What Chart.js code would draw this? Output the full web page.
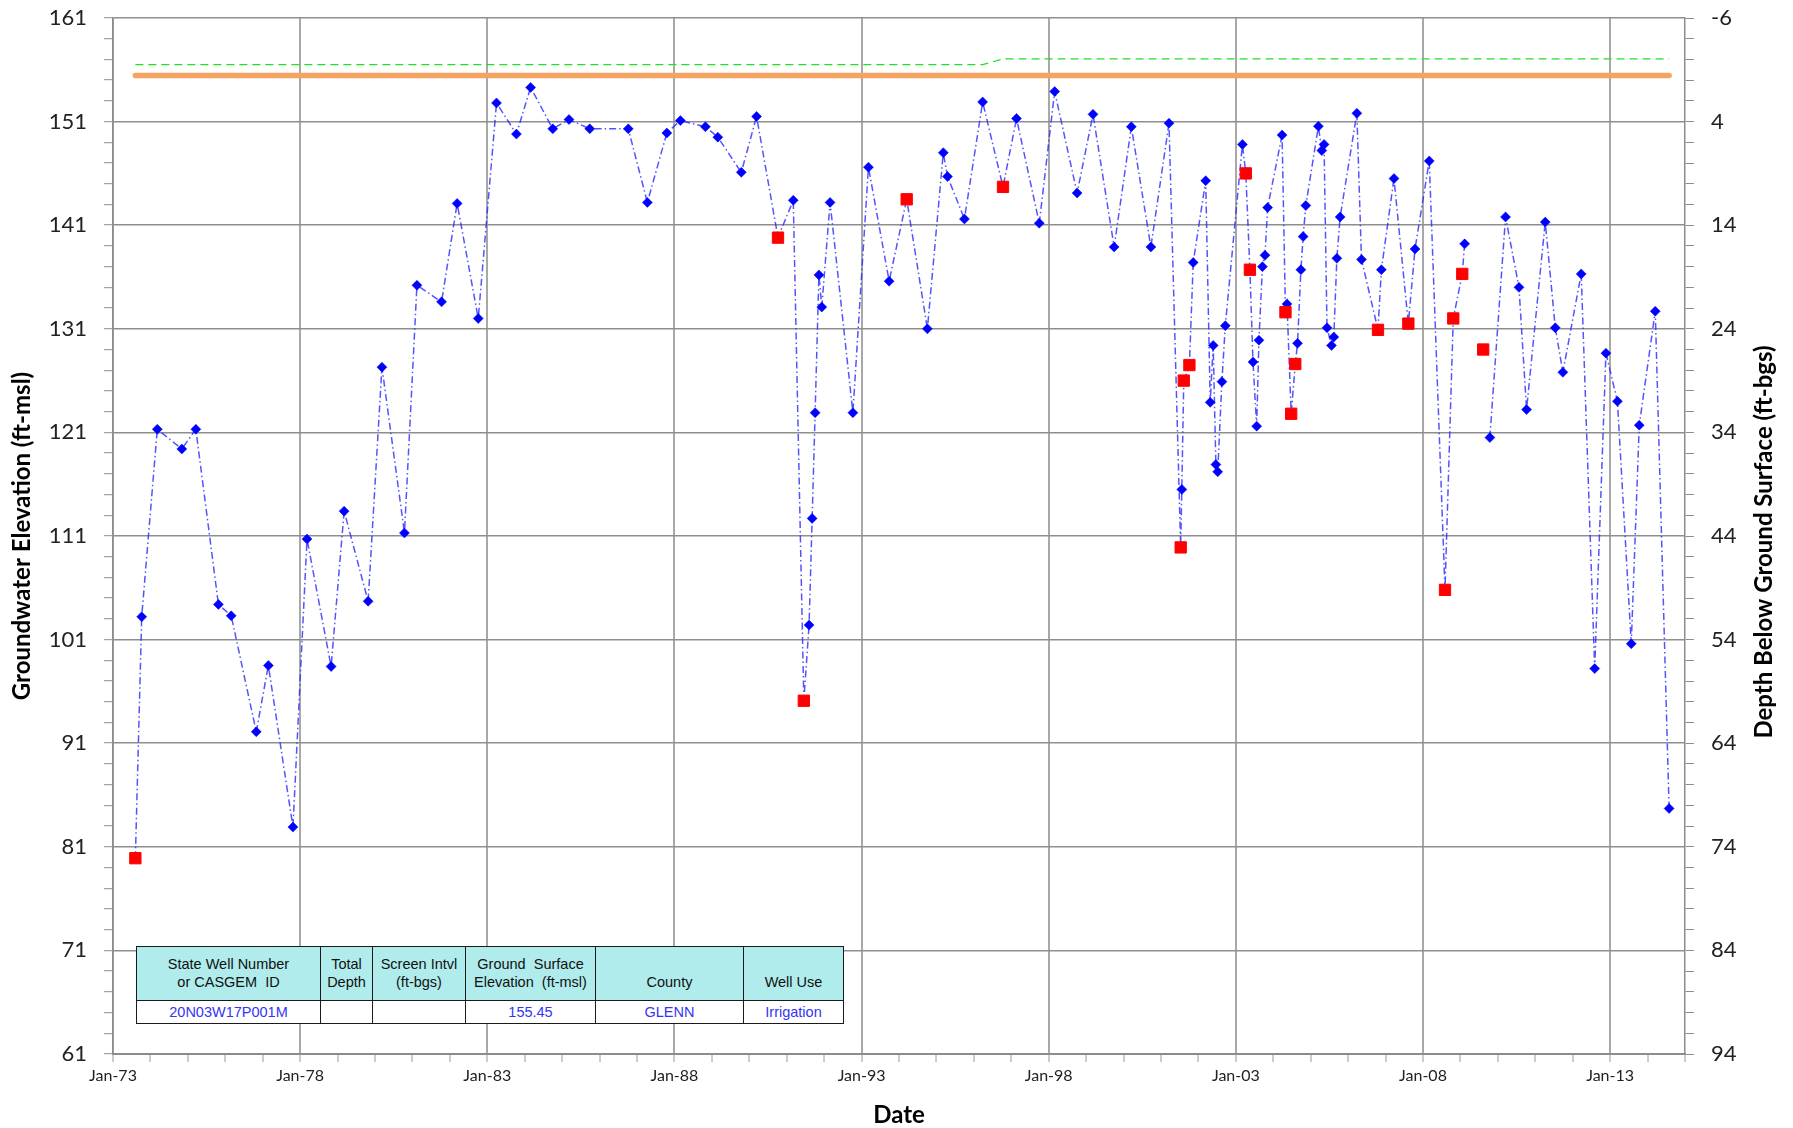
<!DOCTYPE html>
<html><head><meta charset="utf-8">
<script src="https://cdn.jsdelivr.net/npm/chart.js@4.4.1/dist/chart.umd.min.js"></script>
<style>
html,body{margin:0;padding:0;background:#fff;}
#wrap{position:relative;width:1793px;height:1128px;}
canvas{display:block;}
#info{position:absolute;left:136px;top:946px;width:708px;border-collapse:collapse;table-layout:fixed;
  font-family:"Liberation Sans",Arial,sans-serif;font-size:14.5px;background:#fff;}
#info td{border:1.5px solid #1a1a1a;text-align:center;padding:0 1px;white-space:pre;line-height:18px;overflow:hidden;}
#info tr.h td{background:#b0ecec;height:44px;vertical-align:bottom;padding-bottom:9px;color:#111;}
#info tr.d td{height:22px;color:#3434f4;padding:0;vertical-align:middle;}
</style>
</head><body>
<div id="wrap">
<canvas id="c" width="1793" height="1128"></canvas>
<table id="info">
<colgroup><col style="width:184px"><col style="width:52px"><col style="width:93px"><col style="width:130px"><col style="width:148px"><col style="width:100px"></colgroup>
<tr class="h"><td>State Well Number
or CASGEM  ID</td><td>Total
Depth</td><td>Screen Intvl
(ft-bgs)</td><td>Ground  Surface
Elevation  (ft-msl)</td><td>County</td><td>Well Use</td></tr>
<tr class="d"><td>20N03W17P001M</td><td></td><td></td><td>155.45</td><td>GLENN</td><td>Irrigation</td></tr>
</table>
</div>
<script>
// ---- data ----
const measureDates = [
 '1973-08-07','1973-10-08','1974-03-09','1974-11-03','1975-03-20','1975-10-26','1976-02-28','1976-10-30','1977-02-25','1977-10-23',
 '1978-03-09','1978-10-30','1979-03-06','1979-10-26','1980-03-09','1980-10-15','1981-02-14','1981-10-12','1982-03-13','1982-10-05',
 '1983-04-01','1983-10-12','1984-02-28','1984-10-01','1985-03-09','1985-09-27','1986-10-08','1987-04-12','1987-10-19','1988-02-28',
 '1988-10-30','1989-02-28','1989-10-15','1990-03-13','1990-10-08','1991-03-06','1991-06-17','1991-08-07','1991-09-06','1991-10-05',
 '1991-11-11','1991-12-09','1992-02-28','1992-10-08','1993-03-09','1993-09-27','1994-03-17','1994-10-05','1995-03-09','1995-04-19',
 '1995-10-01','1996-03-27','1996-10-12','1997-02-21','1997-10-01','1998-02-28','1998-10-05','1999-03-09','1999-10-01','2000-03-17',
 '2000-09-24','2001-03-20','2001-07-12','2001-07-23','2001-08-11','2001-10-05','2001-11-11','2002-03-13','2002-04-26','2002-05-25',
 '2002-06-20','2002-07-08','2002-08-18','2002-09-20','2003-03-06','2003-04-08','2003-05-18','2003-06-17','2003-07-23','2003-08-14',
 '2003-09-17','2003-10-12','2003-11-07','2004-03-27','2004-04-29','2004-05-14','2004-06-24','2004-08-03','2004-08-25','2004-09-27',
 '2004-10-19','2004-11-14','2005-03-17','2005-04-19','2005-05-11','2005-06-09','2005-07-23','2005-08-14','2005-09-13','2005-10-15',
 '2006-03-27','2006-05-11','2006-10-19','2006-11-21','2007-03-24','2007-08-11','2007-10-15','2008-03-02','2008-08-03','2008-10-23',
 '2009-01-19','2009-02-11','2009-08-11','2009-10-15','2010-03-17','2010-07-26','2010-10-08','2011-04-08','2011-07-15','2011-09-27',
 '2012-03-24','2012-08-03','2012-11-21','2013-03-13','2013-07-26','2013-10-12','2014-03-17','2014-07-30'
];
const measureElev = [
 79.9,103.2,121.3,119.4,121.3,104.4,103.3,92.1,98.5,82.9,
 110.7,98.4,113.4,104.7,127.3,111.3,135.2,133.6,143.1,132.0,
 152.8,149.8,154.3,150.3,151.2,150.3,150.3,143.2,149.9,151.1,
 150.5,149.5,146.1,151.5,139.8,143.4,95.1,102.4,112.7,122.9,
 136.2,133.1,143.2,122.9,146.6,135.6,143.5,131.0,148.0,145.7,
 141.6,152.9,144.7,151.3,141.2,153.9,144.1,151.7,138.9,150.5,
 138.9,150.85,109.9,115.5,126.0,127.5,137.4,145.3,123.9,129.4,
 117.9,117.2,125.9,131.3,148.8,146.0,136.7,127.8,121.6,129.9,
 137.0,138.1,142.7,149.7,132.6,133.4,122.8,127.6,129.6,136.7,
 139.9,142.9,150.55,148.2,148.8,131.1,129.4,130.2,137.8,141.8,
 151.8,137.7,130.9,136.7,145.5,131.5,138.7,147.2,105.8,132.0,
 136.3,139.2,129.0,120.5,141.8,135.0,123.2,141.3,131.1,126.8,
 136.3,98.2,128.65,124.0,100.6,121.7,132.7,84.7
];
// 0 = normal reading, 1 = questionable reading, 2 = questionable reading not joined by the line
const measureCode = [
 1,0,0,0,0,0,0,0,0,0,
 0,0,0,0,0,0,0,0,0,0,
 0,0,0,0,0,0,0,0,0,0,
 0,0,0,0,1,0,1,0,0,0,
 0,0,0,0,0,0,1,0,0,0,
 0,0,1,0,0,0,0,0,0,0,
 0,0,1,0,1,1,0,0,0,0,
 0,0,0,0,0,1,1,0,0,0,
 0,0,0,0,1,0,1,1,0,0,
 0,0,0,0,0,0,0,0,0,0,
 0,0,1,0,0,1,0,0,1,1,
 1,0,2,0,0,0,0,0,0,0,
 0,0,0,0,0,0,0,0
];
const groundSurfaceElev = 155.45;
const rpDates = ['1973-08-07','1996-03-27','1996-10-12','2014-07-30'];
const rpElev = [156.5,156.5,157.05,157.05];
const yearLabels = ['Jan-73','Jan-78','Jan-83','Jan-88','Jan-93','Jan-98','Jan-03','Jan-08','Jan-13'];
const elevTickLabels = [61,71,81,91,101,111,121,131,141,151,161];
const depthTickLabels = [-6,4,14,24,34,44,54,64,74,84,94];

// ---- helpers ----
function toYear(s){
  const [y,m,d] = s.split('-').map(Number);
  const t = Date.UTC(y,m-1,d), a = Date.UTC(y,0,1), b = Date.UTC(y+1,0,1);
  return y + (t-a)/(b-a);
}
const lineData = measureDates.map((d,i)=>({x:toYear(d), y: measureCode[i]===2 ? null : measureElev[i]}));
const bluePtRadius = measureCode.map(c => c===0 ? 5 : 0);
const redData = measureDates.map((d,i)=>({x:toYear(d), y:measureElev[i]})).filter((p,i)=>measureCode[i]>0);
const gsData = [{x:toYear(measureDates[0]), y:groundSurfaceElev},{x:toYear(measureDates[measureDates.length-1]), y:groundSurfaceElev}];
const rpData = rpDates.map((d,i)=>({x:toYear(d), y:rpElev[i]}));

const FONT = 'Lato';
const majorX = v => { const r = (((v-1973)%5)+5)%5; return r < 1e-6 || 5-r < 1e-6; };
const yearLabelFor = v => { const i = Math.round((v-1973)/5); return (majorX(v) && i>=0 && i<yearLabels.length) ? yearLabels[i] : ''; };
const noPad = s => { s.paddingTop = 0; s.paddingBottom = 0; };

const rightTitle = {
  id:'rightTitle',
  afterDraw(chart){
    const s = chart.scales.y2, a = chart.chartArea, ctx = chart.ctx;
    ctx.save();
    ctx.translate(s.right - 29, (a.top+a.bottom)/2 + 6);
    ctx.rotate(-Math.PI/2);
    ctx.font = 'bold 24px ' + FONT;
    ctx.fillStyle = '#000';
    ctx.textAlign = 'center';
    ctx.textBaseline = 'middle';
    ctx.fillText('Depth Below Ground Surface (ft-bgs)', 0, 0);
    ctx.restore();
  }
};

new Chart(document.getElementById('c'), {
  type:'line',
  data:{datasets:[
    {label:'Questionable', data:redData, showLine:false, pointStyle:'rect', pointRadius:8, pointHoverRadius:8,
     pointBackgroundColor:'#ff0000', pointBorderColor:'#ff0000', pointBorderWidth:1},
    {label:'GWE', data:lineData, spanGaps:false, borderColor:'rgba(40,40,255,0.8)', borderWidth:1.5, borderDash:[7,3,1.5,3],
     pointStyle:'rectRot', pointRadius:bluePtRadius, pointHoverRadius:bluePtRadius, pointBackgroundColor:'#0000ff', pointBorderColor:'#0000ff', pointBorderWidth:0.5, tension:0},
    {label:'GSE', data:gsData, borderColor:'#f4a460', borderWidth:5.5, borderCapStyle:'round', pointRadius:0, tension:0},
    {label:'RPE', data:rpData, borderColor:'#22e022', borderWidth:1.2, borderDash:[8,5], pointRadius:0, tension:0}
  ]},
  options:{
    responsive:false, animation:false, events:[],
    layout:{padding:{top:18, left:0, right:0, bottom:0}},
    plugins:{legend:{display:false}, tooltip:{enabled:false}},
    scales:{
      x:{type:'linear', min:1973, max:2015,
         ticks:{stepSize:1, autoSkip:false, maxRotation:0, minRotation:0, maxTicksLimit:200, padding:4, color:'#222',
                font:{family:FONT, size:16}, callback:v=>yearLabelFor(v)},
         grid:{color:c=> (c.tick && majorX(c.tick.value)) ? '#a8a8a8' : 'rgba(0,0,0,0)', lineWidth:2, tickColor:'#9a9a9a', tickLength:8, tickWidth:1},
         border:{color:'#8c8c8c', width:2},
         title:{display:true, text:'Date', color:'#000', font:{family:FONT, size:24, weight:'bold', lineHeight:1}, padding:{top:0,bottom:1}},
         afterFit:s=>{s.height=74; s.paddingLeft=0; s.paddingRight=0;}},
      y:{position:'left', min:61, max:161,
         ticks:{stepSize:2, autoSkip:false, maxTicksLimit:200, padding:17, color:'#222', font:{family:FONT, size:22},
                callback:v=> elevTickLabels.includes(v) ? String(v) : ''},
         grid:{color:c=> (c.tick && elevTickLabels.includes(c.tick.value)) ? '#8e8e8e' : 'rgba(0,0,0,0)', lineWidth:1.4, tickColor:'#8e8e8e', tickLength:9, tickWidth:1},
         border:{color:'#8c8c8c', width:1.5},
         title:{display:true, text:'Groundwater Elevation (ft-msl)', color:'#000', font:{family:FONT, size:24, weight:'bold', lineHeight:1.2}, padding:{top:8,bottom:0}},
         afterFit:s=>{s.width=113; noPad(s);}},
      y2:{position:'right', min:-6, max:94, reverse:true,
         ticks:{stepSize:2, autoSkip:false, maxTicksLimit:200, padding:17, color:'#222', font:{family:FONT, size:22},
                callback:v=> depthTickLabels.includes(v) ? String(v) : ''},
         grid:{drawOnChartArea:false, tickColor:'#8e8e8e', tickLength:9, tickWidth:1},
         border:{color:'#8c8c8c', width:1.5},
         afterFit:s=>{s.width=108; noPad(s);}}
    }
  },
  plugins:[rightTitle]
});
</script>
</body></html>
